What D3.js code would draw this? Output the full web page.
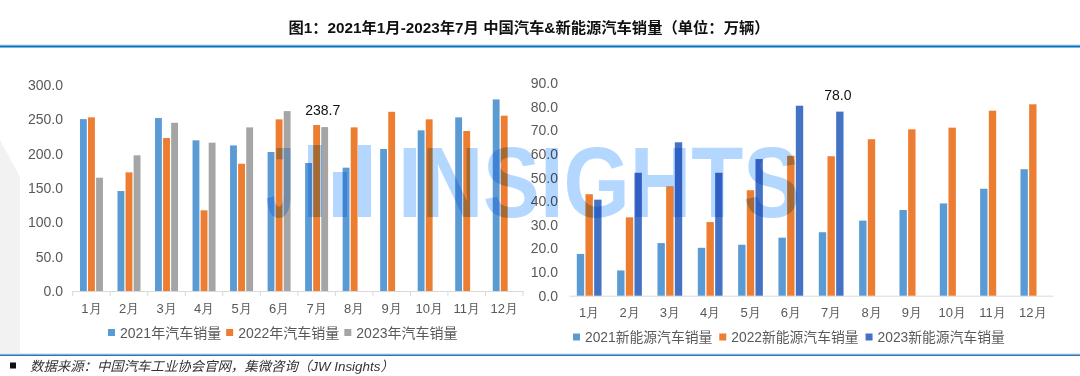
<!DOCTYPE html>
<html>
<head>
<meta charset="utf-8">
<script src="https://cdn.jsdelivr.net/npm/d3@7"></script>
<style>
body{margin:0;background:#fff;}
svg{display:block;font-family:"Liberation Sans","Noto Sans CJK SC",sans-serif;}
.wm{mix-blend-mode:multiply;}
</style>
</head>
<body>
<script>
var months=['1月','2月','3月','4月','5月','6月','7月','8月','9月','10月','11月','12月'];
var car2021=[250.3,145.6,251.9,219.4,212.0,202.4,186.4,179.6,206.8,234.0,252.9,279.0];
var car2022=[252.9,172.8,222.8,117.5,185.3,250.0,241.7,238.3,261.0,250.0,233.0,255.3];
var car2023=[165.0,197.6,245.0,216.0,238.3,262.0,238.7];
var nev2021=[17.7,10.7,22.3,20.3,21.6,24.6,26.9,31.8,36.3,39.1,45.3,53.6];
var nev2022=[43.0,33.2,46.3,31.2,44.7,59.3,59.1,66.3,70.5,71.2,78.4,81.1];
var nev2023=[40.7,52.1,65.0,52.1,57.9,80.5,78.0];
var carLegend=['2021年汽车销量','2022年汽车销量','2023年汽车销量'];
var nevLegend=['2021新能源汽车销量','2022新能源汽车销量','2023新能源汽车销量'];
var carTicks=[0,50,100,150,200,250,300];
var nevTicks=[0,10,20,30,40,50,60,70,80,90];

var width=1080,height=376;
var svg=d3.select('body').append('svg')
.attr('width',width)
.attr('height',height);

// light gray logo shape on the left edge
svg.append('path')
.attr('d','M0,140L20,177L20,353L0,353Z')
.style('fill','#f2f2f2');

svg.append('text')
.attr('x',529)
.attr('y',27)
.attr('text-anchor','middle')
.attr('dominant-baseline','central')
.style('font-size','15.3px')
.style('font-weight','bold')
.style('fill','#111')
.text('图1：2021年1月-2023年7月 中国汽车&新能源汽车销量（单位：万辆）');

svg.append('rect').attr('x',0).attr('y',44.5).attr('width',width).attr('height',1).style('fill','#bdd7ee');
svg.append('rect').attr('x',0).attr('y',45.5).attr('width',width).attr('height',2).style('fill','#0070c0');
svg.append('rect').attr('x',0).attr('y',353.5).attr('width',width).attr('height',1).style('fill','#bdd7ee');
svg.append('rect').attr('x',0).attr('y',354.5).attr('width',width).attr('height',1.5).style('fill','#2e75b6');

function drawPanel(cfg){
    var g=svg.append('g');
    var x0=d3.scaleBand().domain(months).range(cfg.xRange).padding(0);
    var keys=cfg.series.map((s,i)=>i);
    var x1=d3.scaleBand().domain(keys).range([0,x0.bandwidth()]).paddingInner(0.15).paddingOuter(0.9);
    var y=d3.scaleLinear().domain(cfg.yDomain).range(cfg.yRange);

    var yAxis=d3.axisLeft(y).tickValues(cfg.ticks).tickFormat(d3.format('.1f')).tickSize(0).tickPadding(0);
    var ya=g.append('g')
    .attr('transform','translate('+cfg.yLabelX+',0)')
    .call(yAxis);
    ya.select('.domain').remove();
    ya.selectAll('text')
    .style('font-size','14px')
    .style('font-family','"Liberation Sans",sans-serif')
    .style('fill','#595959');

    var xAxis=d3.axisBottom(x0).tickSize(0).tickPadding(0);
    var xa=g.append('g')
    .attr('transform','translate(0,'+cfg.yRange[0]+')')
    .call(xAxis);
    xa.select('.domain').style('stroke','#d9d9d9');
    xa.selectAll('text')
    .attr('y',cfg.xLabelDy)
    .attr('dy','0.35em')
    .style('font-size','13px')
    .style('fill','#595959');
    if(cfg.ticksOut){
        var bounds=months.map(m=>x0(m)).concat([cfg.xRange[1]]);
        xa.selectAll('.bound')
        .data(bounds)
        .enter()
        .append('line')
        .attr('class','bound')
        .attr('x1',d=>d).attr('x2',d=>d)
        .attr('y1',0).attr('y2',5)
        .style('stroke','#d9d9d9');
    }

    cfg.series.forEach(function(values,si){
        g.append('g')
        .selectAll('rect')
        .data(values)
        .enter()
        .append('rect')
        .attr('x',(d,i)=>x0(months[i])+x1(si))
        .attr('width',x1.bandwidth())
        .attr('y',d=>y(d))
        .attr('height',d=>y(0)-y(d))
        .style('fill',cfg.colors[si]);
    });

    // value label on the last bar of the latest year
    var last=cfg.series[cfg.series.length-1];
    var li=last.length-1;
    g.append('text')
    .attr('x',x0(months[li])+x1(cfg.series.length-1)+x1.bandwidth()/2-2)
    .attr('y',y(last[li])-17)
    .attr('text-anchor','middle')
    .attr('dominant-baseline','central')
    .style('font-size','14px')
    .style('fill','#111')
    .text(last[li].toFixed(1));

    // legend
    var lg=g.append('g').attr('transform','translate('+cfg.legendX+','+cfg.legendY+')');
    var cx=0;
    cfg.legend.forEach(function(name,i){
        lg.append('rect')
        .attr('x',cx).attr('y',-3.5)
        .attr('width',7).attr('height',7)
        .style('fill',cfg.colors[i]);
        var t=lg.append('text')
        .attr('x',cx+cfg.legendPad)
        .attr('y',0)
        .attr('dominant-baseline','central')
        .style('font-size',cfg.legendSize)
        .style('fill','#595959')
        .text(name);
        cx+=cfg.legendPad+t.node().getComputedTextLength()+cfg.legendGap;
    });
}

drawPanel({
    series:[car2021,car2022,car2023],
    colors:['#5b9bd5','#ed7d31','#a5a5a5'],
    xRange:[72.7,523],
    yDomain:[0,300],
    yRange:[291,85],
    ticks:carTicks,
    yLabelX:63,
    xLabelDy:17.5,
    ticksOut:true,
    legend:carLegend,
    legendX:108,
    legendY:332.5,
    legendSize:'14px',
    legendPad:12,
    legendGap:5
});

drawPanel({
    series:[nev2021,nev2022,nev2023],
    colors:['#5b9bd5','#ed7d31','#4472c4'],
    xRange:[569,1053],
    yDomain:[0,90],
    yRange:[295.7,83.3],
    ticks:nevTicks,
    yLabelX:558,
    xLabelDy:16.5,
    ticksOut:false,
    legend:nevLegend,
    legendX:573,
    legendY:337,
    legendSize:'13.8px',
    legendPad:12,
    legendGap:7
});

// JW INSIGHTS watermark
var wm=svg.append('g').attr('class','wm').style('fill','#b3d7ff');
wm.append('text')
.attr('x',266).attr('y',217)
.style('font-size','100px')
.style('font-weight','bold')
.attr('textLength',28)
.attr('lengthAdjust','spacingAndGlyphs')
.text('J');
wm.append('rect').attr('x',308).attr('y',145).attr('width',14).attr('height',72);
wm.append('rect').attr('x',333).attr('y',172).attr('width',14).attr('height',45);
wm.append('rect').attr('x',358).attr('y',145).attr('width',13).attr('height',72);
wm.append('text')
.attr('x',398).attr('y',217)
.style('font-size','100px')
.style('font-weight','bold')
.attr('textLength',402)
.attr('lengthAdjust','spacingAndGlyphs')
.text('INSIGHTS');

// footer
svg.append('rect').attr('x',10).attr('y',362.5).attr('width',6).attr('height',6).style('fill','#111');
svg.append('text')
.attr('x',30)
.attr('y',366)
.attr('dominant-baseline','central')
.style('font-size','13.4px')
.style('font-style','italic')
.style('fill','#333')
.text('数据来源：中国汽车工业协会官网，集微咨询（JW Insights）');
</script>
</body>
</html>
